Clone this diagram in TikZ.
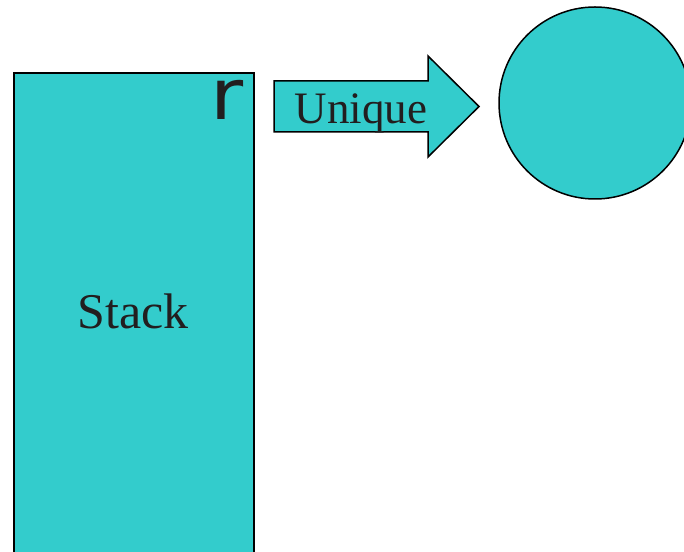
\documentclass[tikz,border=0pt]{standalone}
\usepackage{fontspec}
\setmainfont{Liberation Serif}
\newfontfamily\rfont{DejaVu Sans}
\definecolor{teal1}{HTML}{33CCCC}
\definecolor{ink}{HTML}{221E1F}
\begin{document}
\begin{tikzpicture}[x=1pt,y=1pt,
  shapefill/.style={fill=teal1,draw=black},
  lbl/.style={text=ink,inner sep=0pt,anchor=base}]
\useasboundingbox (0,0) rectangle (684,551);
\clip (0,0) rectangle (684,551);
% stack rectangle
\draw[shapefill,line width=2pt] (14,478) rectangle (254,-20);
% arrow
\draw[shapefill,line width=1.5pt,line join=miter] (274,470) -- (428,470) -- (428,495) -- (479,444.5) -- (428,394) -- (428,419) -- (274,419) -- cycle;
% circle
\draw[shapefill,line width=1.5pt] (595,448) circle (96);
\node[lbl,font=\fontsize{50}{50}\selectfont] (stack) at (133,222) {Stack};
\node[lbl,font=\fontsize{45}{45}\selectfont] (unique) at (361,427) {Unique};
\node[lbl,font=\rfont\fontsize{70}{70}\selectfont,xscale=1.15] (r) at (227,431) {r};
\end{tikzpicture}
\end{document}
